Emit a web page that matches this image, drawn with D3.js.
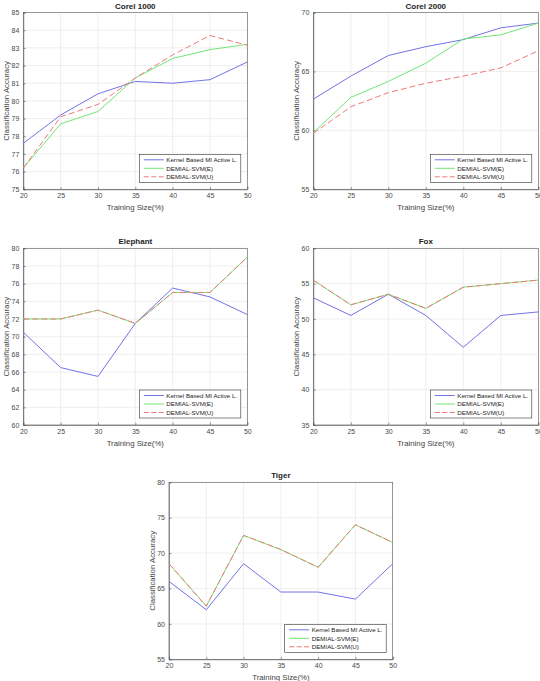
<!DOCTYPE html>
<html><head><meta charset="utf-8">
<script src="https://cdn.jsdelivr.net/npm/d3@7"></script>
<style>
body{margin:0;background:#fff;}
svg{display:block;font-family:"Liberation Sans",Arial,Helvetica,sans-serif;}
</style></head><body>
<script>
const trainingSizes = [20, 25, 30, 35, 40, 45, 50];
const seriesNames = ["Kernel Based MI Active L.", "DEMIAL-SVM(E)", "DEMIAL-SVM(U)"];

const corel1000Kernel = [77.6, 79.2, 80.4, 81.1, 81.0, 81.2, 82.2];
const corel1000E      = [76.2, 78.7, 79.4, 81.3, 82.4, 82.9, 83.2];
const corel1000U      = [76.2, 79.1, 79.8, 81.3, 82.6, 83.7, 83.15];
const corel1000Ticks  = [75, 76, 77, 78, 79, 80, 81, 82, 83, 84, 85];

const corel2000Kernel = [62.65, 64.6, 66.35, 67.1, 67.7, 68.7, 69.1];
const corel2000E      = [59.8, 62.8, 64.15, 65.7, 67.75, 68.1, 69.1];
const corel2000U      = [59.75, 62.0, 63.2, 64.0, 64.6, 65.3, 66.75];
const corel2000Ticks  = [55, 60, 65, 70];

const elephantKernel = [70.5, 66.5, 65.5, 71.5, 75.5, 74.5, 72.5];
const elephantE      = [72, 72, 73, 71.5, 75, 75, 79];
const elephantU      = [72, 72, 73, 71.5, 75, 75, 79];
const elephantTicks  = [60, 62, 64, 66, 68, 70, 72, 74, 76, 78, 80];

const foxKernel = [53, 50.5, 53.5, 50.5, 46, 50.5, 51];
const foxE      = [55.5, 52, 53.5, 51.5, 54.5, 55, 55.5];
const foxU      = [55.5, 52, 53.5, 51.5, 54.5, 55, 55.5];
const foxTicks  = [35, 40, 45, 50, 55, 60];

const tigerKernel = [66, 62, 68.5, 64.5, 64.5, 63.5, 68.5];
const tigerE      = [68.5, 62.5, 72.5, 70.5, 68, 74, 71.5];
const tigerU      = [68.5, 62.5, 72.5, 70.5, 68, 74, 71.5];
const tigerTicks  = [55, 60, 65, 70, 75, 80];

const W = 540, H = 681;
const svg = d3.select("body").append("svg").attr("width", W).attr("height", H);

const colors = ["#7373e6", "#73e673", "#ef7a7a"];
const dashes = [null, null, "6,3"];

function panel(title, series, yTicks, box) {
  const g = svg.append("g");
  const x = d3.scaleLinear().domain([20, 50]).range([box.l, box.r]);
  const y = d3.scaleLinear().domain([yTicks[0], yTicks[yTicks.length - 1]]).range([box.b, box.t]);
  const xTicks = trainingSizes;
  // grid
  g.append("g").selectAll("line").data(xTicks).join("line")
    .attr("x1", d => x(d)).attr("x2", d => x(d)).attr("y1", box.t).attr("y2", box.b)
    .attr("stroke", "#e8e8e8").attr("stroke-width", 0.7);
  g.append("g").selectAll("line").data(yTicks).join("line")
    .attr("x1", box.l).attr("x2", box.r).attr("y1", d => y(d)).attr("y2", d => y(d))
    .attr("stroke", "#e8e8e8").attr("stroke-width", 0.7);
  // box
  g.append("rect").attr("x", box.l).attr("y", box.t).attr("width", box.r - box.l).attr("height", box.b - box.t)
    .attr("fill", "none").attr("stroke", "#5a5a5a").attr("stroke-width", 0.6);
  // axes
  const xAxis = d3.axisBottom(x).tickValues(xTicks).tickSize(-2.5).tickPadding(4).tickFormat(d3.format("d"));
  const yAxis = d3.axisLeft(y).tickValues(yTicks).tickSize(-2.5).tickPadding(4).tickFormat(d3.format("d"));
  const gx = g.append("g").attr("transform", `translate(0,${box.b})`).call(xAxis);
  const gy = g.append("g").attr("transform", `translate(${box.l},0)`).call(yAxis);
  [gx, gy].forEach(a => {
    a.select(".domain").attr("stroke", "#5a5a5a").attr("stroke-width", 0.6);
    a.selectAll(".tick line").attr("stroke", "#5a5a5a").attr("stroke-width", 0.6);
    a.selectAll(".tick text").attr("fill", "#4a4a4a").attr("font-size", 7).attr("font-family", "Liberation Sans, Arial, sans-serif");
  });
  // lines
  const line = d3.line().x((d, i) => x(trainingSizes[i])).y(d => y(d));
  series.forEach((s, k) => {
    g.append("path").datum(s).attr("d", line).attr("fill", "none")
      .attr("stroke", colors[k]).attr("stroke-width", 1)
      .attr("stroke-dasharray", dashes[k]);
  });
  // title
  g.append("text").attr("x", (box.l + box.r) / 2).attr("y", box.t - 4)
    .attr("text-anchor", "middle").attr("font-size", 8).attr("font-weight", "bold").attr("fill", "#222").text(title);
  // x label
  g.append("text").attr("x", (box.l + box.r) / 2).attr("y", box.b + 21)
    .attr("text-anchor", "middle").attr("font-size", 7.8).attr("fill", "#444").text("Training Size(%)");
  // y label
  g.append("text").attr("transform", `translate(${box.l - 14},${(box.t + box.b) / 2}) rotate(-90)`)
    .attr("text-anchor", "middle").attr("font-size", 7.8).attr("fill", "#444").text("Classification Accuracy");
  // legend
  const lw = 101.5, lh = 28;
  const lx = box.r - 6.5 - lw, ly = box.b - 7 - lh;
  const lg = g.append("g");
  lg.append("rect").attr("x", lx).attr("y", ly).attr("width", lw).attr("height", lh)
    .attr("fill", "#fff").attr("stroke", "#333").attr("stroke-width", 0.6);
  seriesNames.forEach((n, k) => {
    const yy = ly + 5.5 + k * 8.5;
    lg.append("line").attr("x1", lx + 4.5).attr("x2", lx + 24.5).attr("y1", yy).attr("y2", yy)
      .attr("stroke", colors[k]).attr("stroke-width", 1).attr("stroke-dasharray", dashes[k] ? "5,2.5" : null);
    lg.append("text").attr("x", lx + 27).attr("y", yy + 2.2).attr("font-size", 6.2).attr("fill", "#222").text(n);
  });
}

panel("Corel 1000", [corel1000Kernel, corel1000E, corel1000U], corel1000Ticks, {l: 23.3, r: 247.3, t: 12.5, b: 189.3});
panel("Corel 2000", [corel2000Kernel, corel2000E, corel2000U], corel2000Ticks, {l: 313.3, r: 538.3, t: 12.5, b: 189.3});
panel("Elephant", [elephantKernel, elephantE, elephantU], elephantTicks, {l: 23.3, r: 247.3, t: 248.3, b: 425});
panel("Fox", [foxKernel, foxE, foxU], foxTicks, {l: 313.3, r: 538.3, t: 248.3, b: 425});
panel("Tiger", [tigerKernel, tigerE, tigerU], tigerTicks, {l: 169, r: 392.7, t: 482.3, b: 659.3});
</script>
</body></html>
